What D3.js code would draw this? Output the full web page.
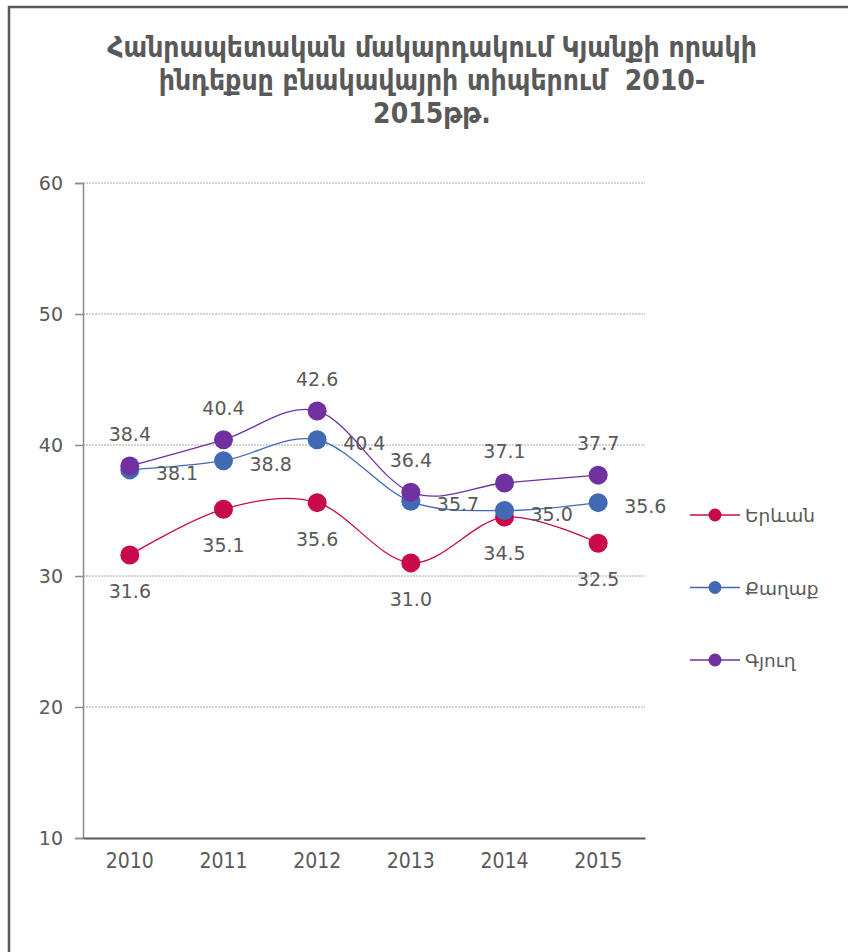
<!DOCTYPE html>
<html>
<head>
<meta charset="utf-8">
<style>
  body { margin: 0; background: #fff; font-family: "DejaVu Sans", sans-serif; overflow: hidden; }
  svg { display: block; }
  .title { fill: #595959; font-weight: bold; font-size: 28px; font-family: "DejaVu Sans Condensed", "DejaVu Sans", sans-serif; white-space: pre; }
  .data-label { fill: #595959; font-size: 19px; }
  .legend-label { fill: #595959; font-size: 18.5px; }
  .grid { stroke: #a6a6a6; stroke-width: 1px; stroke-dasharray: 2,1; }
</style>
<script src="https://d3js.org/d3.v7.min.js"></script>
</head>
<body>
<script>
const years = ['2010', '2011', '2012', '2013', '2014', '2015'];
const yerevan = [31.6, 35.1, 35.6, 31.0, 34.5, 32.5];
const qaghaq = [38.1, 38.8, 40.4, 35.7, 35.0, 35.6];
const gyugh = [38.4, 40.4, 42.6, 36.4, 37.1, 37.7];
const yTicks = [10, 20, 30, 40, 50, 60];
const titleLines = ['Հանրապետական մակարդակում Կյանքի որակի', 'ինդեքսը բնակավայրի տիպերում  2010-', '2015թթ.'];

const series = [
  {name: 'Երևան', values: yerevan, color: '#c8094b', labelPos: 'below'},
  {name: 'Քաղաք', values: qaghaq, color: '#4169b4', labelPos: 'right'},
  {name: 'Գյուղ', values: gyugh, color: '#7030a0', labelPos: 'above'}
];

const width = 848, height = 952;
const svg = d3.select('body').append('svg')
  .attr('width', width)
  .attr('height', height);

// chart frame: only the top and left edges fall inside the picture
svg.append('path')
  .attr('d', `M9,${height} L9,7 L${width},7`)
  .attr('fill', 'none')
  .attr('stroke', '#595959')
  .attr('stroke-width', 2.5);

// title
svg.append('text')
  .attr('class', 'title')
  .attr('text-anchor', 'middle')
  .selectAll('tspan')
  .data(titleLines)
  .join('tspan')
    .attr('x', 432)
    .attr('y', (d, i) => 57 + i * 33)
    .text(d => d);

const plot = {left: 83, right: 645, top: 183, bottom: 838};

const x = d3.scaleBand()
  .domain(years)
  .range([plot.left, plot.right]);

const y = d3.scaleLinear()
  .domain([10, 60])
  .range([plot.bottom, plot.top]);

const cx = d => x(d) + x.bandwidth() / 2;

// gridlines
svg.append('g')
  .selectAll('line')
  .data(yTicks.slice(1))
  .join('line')
    .attr('class', 'grid')
    .attr('x1', plot.left).attr('x2', plot.right)
    .attr('y1', d => y(d)).attr('y2', d => y(d));

// y axis
const yAxis = svg.append('g')
  .attr('transform', `translate(${plot.left},0)`)
  .call(d3.axisLeft(y).tickValues(yTicks).tickSize(8).tickPadding(12).tickFormat(d3.format('d')));
yAxis.select('.domain').attr('stroke', '#8c8c8c').attr('stroke-width', 1.5);
yAxis.selectAll('.tick line').attr('stroke', '#8c8c8c').attr('stroke-width', 1.5);
yAxis.selectAll('.tick text')
  .style('font-family', '"DejaVu Sans", sans-serif')
  .style('font-size', '19px')
  .style('fill', '#595959');

// x axis
const xAxis = svg.append('g')
  .attr('transform', `translate(0,${plot.bottom})`)
  .call(d3.axisBottom(x).tickSize(0).tickPadding(15));
xAxis.select('.domain').attr('stroke', '#595959').attr('stroke-width', 2);
xAxis.selectAll('.tick text')
  .style('font-family', '"DejaVu Sans Condensed", sans-serif')
  .style('font-size', '21px')
  .style('fill', '#595959');

const line = d3.line()
  .x((d, i) => cx(years[i]))
  .y(d => y(d))
  .curve(d3.curveCardinal.tension(0));

// lines and markers
series.forEach(s => {
  const g = svg.append('g');
  g.append('path')
    .attr('d', line(s.values))
    .attr('fill', 'none')
    .attr('stroke', s.color)
    .attr('stroke-width', 1.3);
  g.selectAll('circle')
    .data(s.values)
    .join('circle')
      .attr('cx', (d, i) => cx(years[i]))
      .attr('cy', d => y(d))
      .attr('r', 9.5)
      .attr('fill', s.color);
});

// data labels
series.forEach(s => {
  svg.append('g')
    .selectAll('text')
    .data(s.values)
    .join('text')
      .attr('class', 'data-label')
      .attr('x', (d, i) => s.labelPos === 'right' ? cx(years[i]) + 26 : cx(years[i]))
      .attr('y', d => {
        if (s.labelPos === 'below') return y(d) + 43;
        if (s.labelPos === 'above') return y(d) - 25;
        return y(d) + 10;
      })
      .attr('text-anchor', s.labelPos === 'right' ? 'start' : 'middle')
      .text(d => d.toFixed(1));
});

// legend
const legend = svg.append('g')
  .selectAll('g')
  .data(series)
  .join('g')
    .attr('transform', (d, i) => `translate(690, ${515 + i * 72.5})`);
legend.append('line')
  .attr('x1', 0).attr('x2', 50)
  .attr('stroke', d => d.color)
  .attr('stroke-width', 1.3);
legend.append('circle')
  .attr('cx', 25).attr('r', 6.5)
  .attr('fill', d => d.color);
legend.append('text')
  .attr('class', 'legend-label')
  .attr('x', 55).attr('y', 7)
  .text(d => d.name);
</script>
</body>
</html>
